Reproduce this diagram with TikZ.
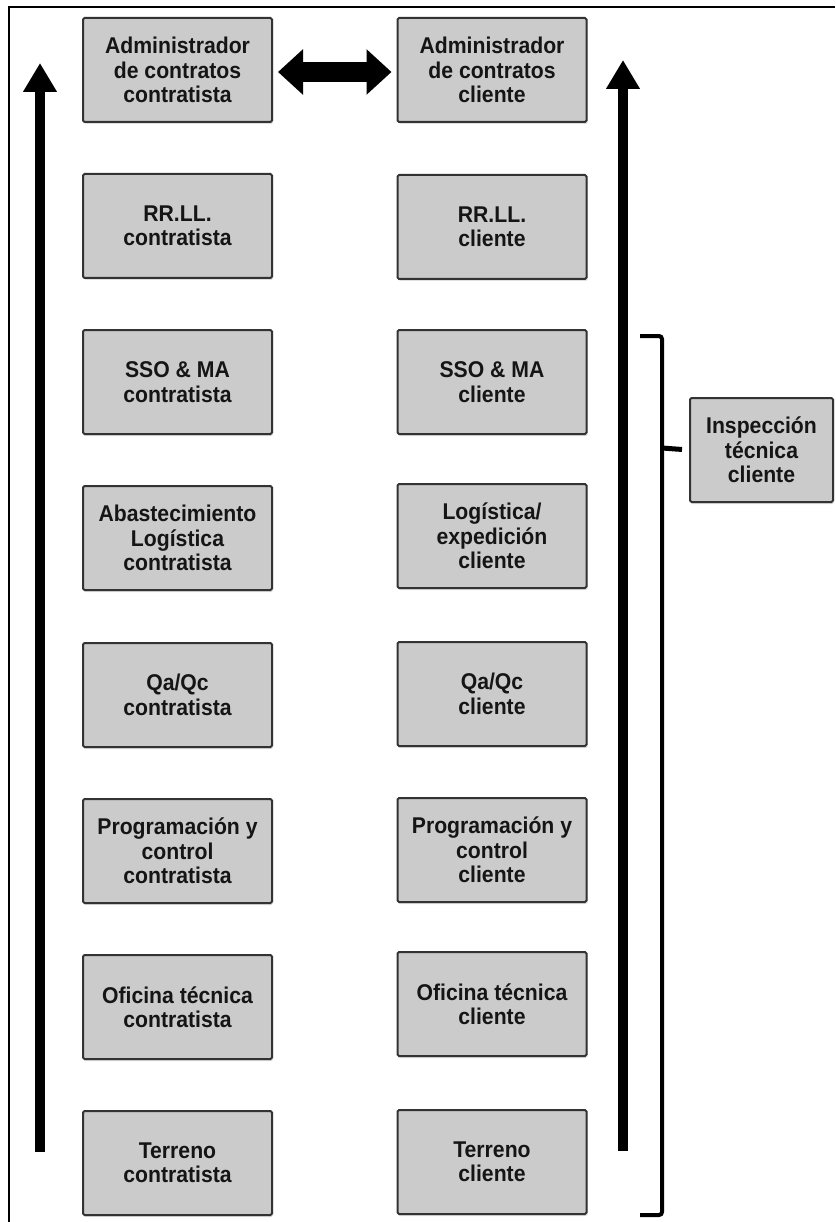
\documentclass[tikz,border=0pt]{standalone}
\usepackage{fontspec}
\setmainfont{Liberation Sans}[FakeStretch=0.93]
\usetikzlibrary{arrows.meta,shadows}
\definecolor{boxfill}{HTML}{CBCBCB}
\definecolor{boxdraw}{HTML}{333333}
\definecolor{txt}{HTML}{151515}
\begin{document}
\begin{tikzpicture}[x=1pt,y=-1pt,
  orgbox/.style={draw=boxdraw, line width=2pt, fill=boxfill, rounded corners=1.5pt,
    minimum width=189pt, minimum height=104pt, inner sep=0pt, align=center,
    text=txt, font=\fontsize{22.8}{24.5}\selectfont\bfseries,
    drop shadow={shadow xshift=1pt, shadow yshift=-2pt, opacity=0.25, fill=gray}},
  inspbox/.style={orgbox, minimum width=143pt},
  bigarrow/.style={line width=10pt, -{Triangle[length=29pt,width=32pt]}},
  dblarrow/.style={line width=20pt, {Triangle[length=25pt,width=44pt]}-{Triangle[length=25pt,width=44pt]}, shorten <=5pt, shorten >=5pt},
  bracketline/.style={line width=4pt, rounded corners=3pt},
  frameline/.style={line width=2.2pt}
]
\useasboundingbox (0,0) rectangle (835,1222);
\fill[white] (0,0) rectangle (835,1222);
% frame
\draw[frameline] (9,1222) -- (9,7) -- (835,7);

% left column (contratista)
\node[orgbox] (l1) at (177.5,70) {Administrador\\de contratos\\contratista};
\node[orgbox] (l2) at (177.5,226) {RR.LL.\\contratista};
\node[orgbox] (l3) at (177.5,382) {SSO \& MA\\contratista};
\node[orgbox] (l4) at (177.5,538) {Abastecimiento\\Logística\\contratista};
\node[orgbox] (l5) at (177.5,695) {Qa/Qc\\contratista};
\node[orgbox] (l6) at (177.5,851) {Programación y\\control\\contratista};
\node[orgbox] (l7) at (177.5,1007) {Oficina técnica\\contratista};
\node[orgbox] (l8) at (177.5,1163) {Terreno\\contratista};

% right column (cliente)
\node[orgbox] (r1) at (492,70) {Administrador\\de contratos\\cliente};
\node[orgbox] (r2) at (492,227) {RR.LL.\\cliente};
\node[orgbox] (r3) at (492,382) {SSO \& MA\\cliente};
\node[orgbox] (r4) at (492,536) {Logística/\\expedición\\cliente};
\node[orgbox] (r5) at (492,694) {Qa/Qc\\cliente};
\node[orgbox] (r6) at (492,850) {Programación y\\control\\cliente};
\node[orgbox] (r7) at (492,1004) {Oficina técnica\\cliente};
\node[orgbox] (r8) at (492,1162) {Terreno\\cliente};

% inspection box
\node[inspbox] (insp) at (761.5,450) {Inspección\\técnica\\cliente};

% double arrow between administrators
\draw[dblarrow] (l1.east |- 0,72) -- (r1.west |- 0,72);

% vertical arrows
\coordinate (la0) at (40,1152);
\coordinate (la1) at (40,63);
\coordinate (ra0) at (623,1151);
\coordinate (ra1) at (623,60);
\draw[bigarrow] (la0) -- (la1);
\draw[bigarrow] (ra0) -- (ra1);

% bracket
\coordinate (bt) at (640,336);
\coordinate (bb) at (640,1215);
\coordinate (bm) at (662,448);
\draw[bracketline] (bt) -- (662,336) -- (662,1215) -- (bb);
\draw[line width=5pt, shorten >=7pt] (bm) -- (insp.west);
\end{tikzpicture}
\end{document}
